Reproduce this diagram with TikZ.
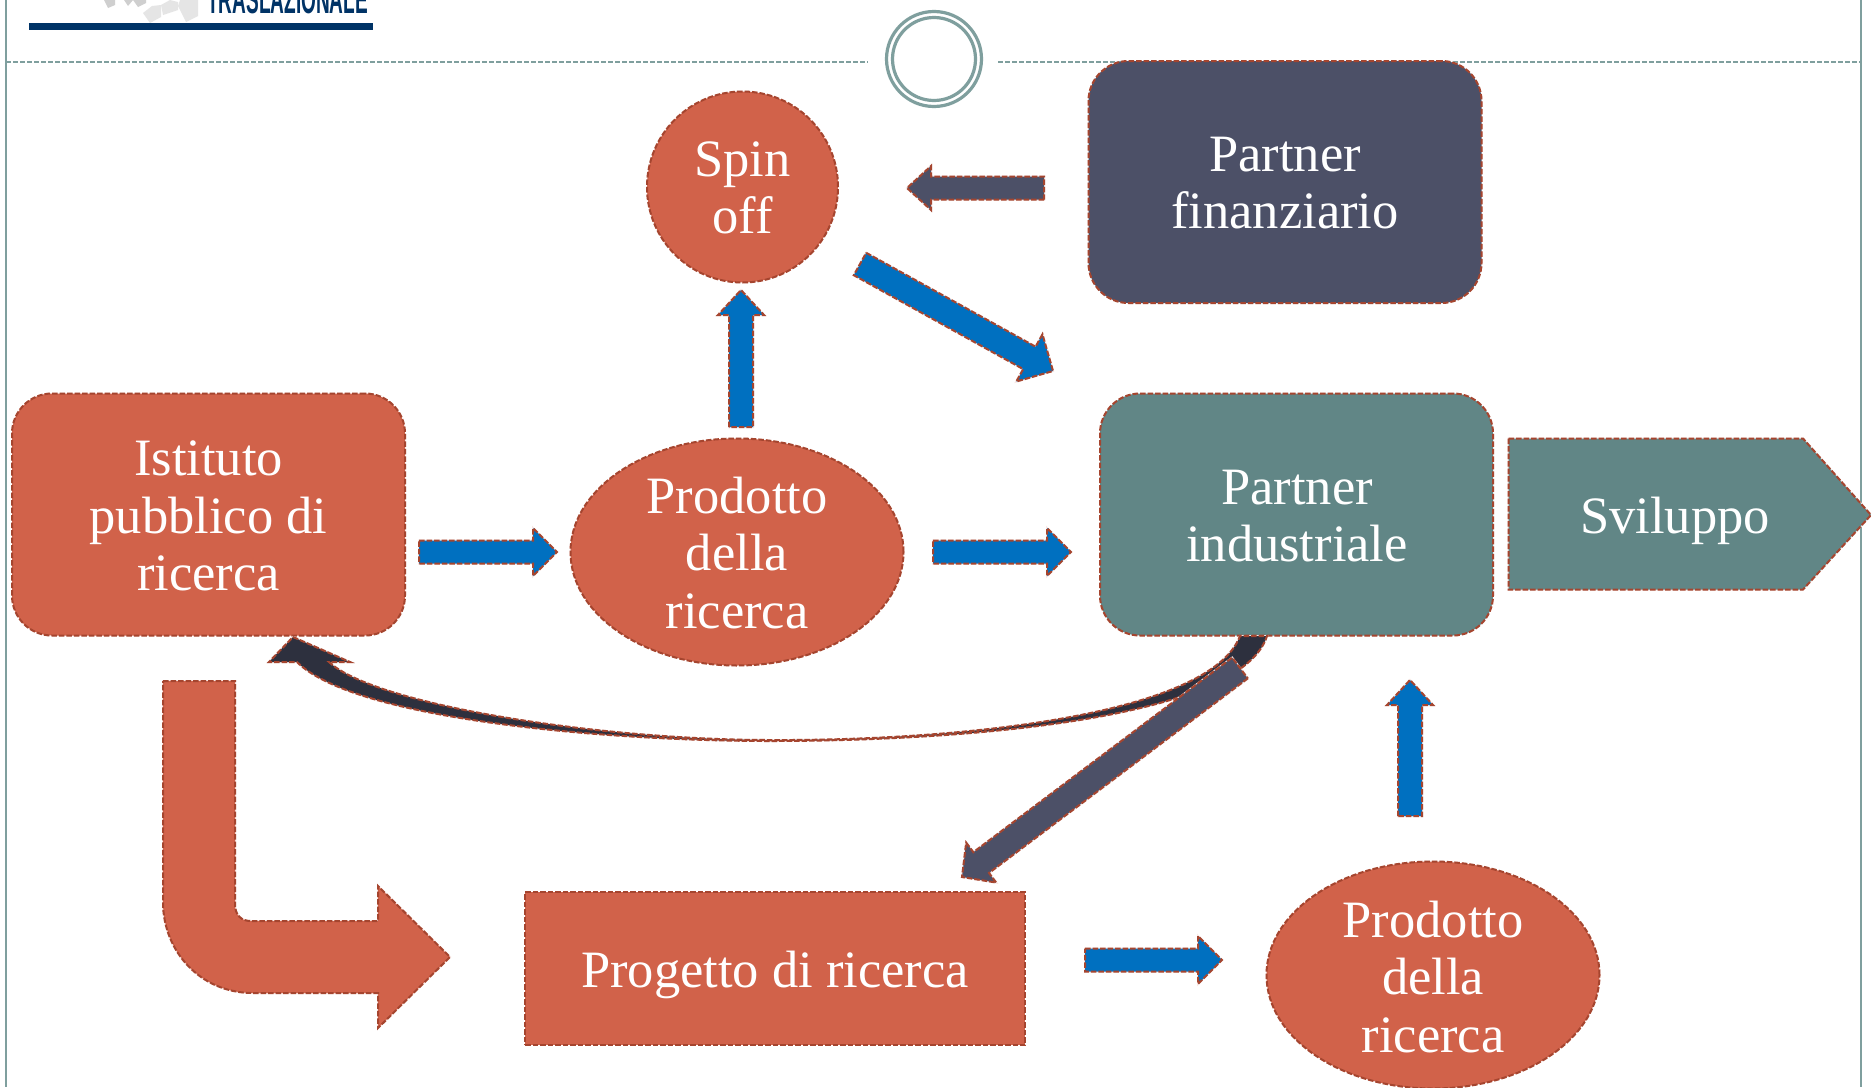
\documentclass[tikz,border=0pt]{standalone}
\usepackage{fontspec}
\setmainfont{Liberation Serif}
\newfontfamily\logofont{Liberation Sans}
\usetikzlibrary{calc,shapes.geometric}
\definecolor{brickfill}{HTML}{D1624A}
\definecolor{tealfill}{HTML}{618686}
\definecolor{slatefill}{HTML}{4C5067}
\definecolor{bluefill}{HTML}{0070C0}
\definecolor{darkband}{HTML}{2D303E}
\definecolor{dashred}{HTML}{A5452F}
\definecolor{framecol}{HTML}{7F9F9E}
\definecolor{navy}{HTML}{003366}
\tikzset{
  x=1pt,y=-1pt,
  dashedge/.style={preaction={draw=white!85!brickfill,line width=2pt},draw=dashred,line width=2pt,dash pattern=on 5.5pt off 2pt},
  label/.style={text=white,align=center,font=\fontsize{52.5}{57.5}\selectfont,inner sep=0pt},
  roundbox/.style={dashedge,rectangle,rounded corners=40pt,minimum width=393pt,minimum height=242pt,inner sep=0pt},
  oval/.style={dashedge,ellipse,fill=brickfill,inner sep=0pt},
  bluearrow/.style={dashedge,fill=bluefill},
  slatearrow/.style={dashedge,fill=slatefill},
  framedash/.style={draw=framecol,line width=1.3pt,dash pattern=on 5pt off 2pt},
  frameline/.style={draw=framecol,line width=2pt},
  ringline/.style={draw=framecol,line width=3.2pt},
  cubelight/.style={fill=gray!20},
  cubedark/.style={fill=gray!38},
}
% tail, tip, shaft half-width, head half-width, head length, style
\newcommand{\blockarrow}[6]{%
  \draw[#6] ($(#1)!#3pt!90:(#2)$)
    -- ($($(#2)!#5pt!(#1)$)!#3pt!90:(#2)$)
    -- ($($(#2)!#5pt!(#1)$)!#4pt!90:(#2)$)
    -- (#2)
    -- ($($(#2)!#5pt!(#1)$)!#4pt!-90:(#2)$)
    -- ($($(#2)!#5pt!(#1)$)!#3pt!-90:(#2)$)
    -- ($(#1)!#3pt!-90:(#2)$) -- cycle;}
\begin{document}
\begin{tikzpicture}
\useasboundingbox (0,0) rectangle (1871,1087);
\clip (0,0) rectangle (1871,1087);
\fill[white] (0,0) rectangle (1871,1087);
% frame
\draw[frameline] (6,0) -- (6,1087);
\draw[frameline] (1861,0) -- (1861,1087);
\draw[framedash] (6,62) -- (868,62);
\draw[framedash] (998,62) -- (1861,62);
\node[ringline,circle,minimum size=95pt,inner sep=0pt] (ringouter) at (934,59) {};
\node[ringline,circle,minimum size=83pt,inner sep=0pt] (ringinner) at (934,59) {};
% logo
\fill[cubelight] (143,13) -- (150,23) -- (161,17) -- (161,5) -- (152,6) -- cycle;
\fill[cubelight] (161,5) -- (163,15) -- (178,10) -- (178,2) -- (170,0) -- cycle;
\fill[cubelight] (178,6) -- (186,22) -- (198,16) -- (198,0) -- (180,0) -- cycle;
\fill[cubedark] (104,0) -- (108,8) -- (115,5) -- (115,0) -- cycle;
\fill[cubedark] (124,0) -- (128,6) -- (133,0) -- cycle;
\fill[cubedark] (133,0) -- (138,7) -- (146,3) -- (146,0) -- cycle;
\fill[navy] (29,23) rectangle (373,30);
\node[anchor=south west,inner sep=0pt,text=navy,font=\logofont\bfseries\fontsize{40}{40}\selectfont] (logotext) at (207,14) {\scalebox{0.476}[1]{TRASLAZIONALE}};
% boxes
\node[roundbox,fill=brickfill] (istituto) at (208.5,514.5) {};
\node[label] at (208.5,516) {Istituto\\pubblico di\\ricerca};
\node[oval,minimum width=333pt,minimum height=227pt] (prodottoa) at (737,552) {};
\node[label] at (737,553) {Prodotto\\della\\ricerca};
\node[oval,minimum width=191pt,minimum height=191pt] (spinoff) at (742.5,187) {};
\node[label] at (742.5,188) {Spin\\off};
\node[roundbox,fill=slatefill] (finanz) at (1285,182) {};
\node[label] at (1285,183) {Partner\\finanziario};
\node[roundbox,fill=tealfill] (industr) at (1296.5,514.5) {};
\node[label] at (1297,516) {Partner\\industriale};
\draw[dashedge,fill=tealfill] (1508.5,438.5) -- (1803,438.5) -- (1871,515) -- (1803,589.5) -- (1508.5,589.5) -- cycle;
\node[label] (sviluppo) at (1675,521) {Sviluppo};
\node[dashedge,rectangle,fill=brickfill,minimum width=500pt,minimum height=153pt,inner sep=0pt] (progetto) at (775,968.5) {};
\node[label] at (775,975) {Progetto di ricerca};
\node[oval,minimum width=333pt,minimum height=227pt] (prodottob) at (1433,975) {};
\node[label] at (1433,977) {Prodotto\\della\\ricerca};
% bent arrow
\draw[dashedge,fill=brickfill] (163,681) -- (235,681) -- (235,904) .. controls (235,915) and (241,921) .. (251,921)
  -- (378,921) -- (378,886) -- (450,957) -- (378,1028) -- (378,993) -- (253,993)
  .. controls (200,993) and (163,951) .. (163,902) -- cycle;
% curved arrow
\coordinate (curvetip) at (293,637);
\draw[dashedge,fill=darkband] (curvetip) -- (350,662) -- (329,662)
  .. controls (375,705) and (600,740) .. (770,740)
  .. controls (960,741) and (1210,715) .. (1240,636)
  -- (1267,636)
  .. controls (1240,720) and (960,741) .. (770,741)
  .. controls (610,741) and (355,720) .. (297,662)
  -- (269,662) -- cycle;
% straight block arrows
\coordinate (aT) at (419,552); \coordinate (aH) at (557,552);
\blockarrow{aT}{aH}{11.5}{24}{24}{bluearrow}
\coordinate (bT) at (933,552); \coordinate (bH) at (1071,552);
\blockarrow{bT}{bH}{11.5}{24}{24}{bluearrow}
\coordinate (cT) at (741,427); \coordinate (cH) at (741,290);
\blockarrow{cT}{cH}{12}{23}{25}{bluearrow}
\coordinate (dT) at (860,264); \coordinate (dH) at (1053,371);
\blockarrow{dT}{dH}{12.8}{27}{27}{bluearrow}
\coordinate (eT) at (1044,188); \coordinate (eH) at (907,188);
\blockarrow{eT}{eH}{11.5}{22}{24}{slatearrow}
\coordinate (fT) at (1410,816); \coordinate (fH) at (1410,680);
\blockarrow{fT}{fH}{12}{23}{25}{bluearrow}
\coordinate (gT) at (1085,960); \coordinate (gH) at (1222,960);
\blockarrow{gT}{gH}{11.5}{24}{24}{bluearrow}
\coordinate (hT) at (1240,668); \coordinate (hH) at (962,877);
\blockarrow{hT}{hH}{13}{25}{24}{slatearrow}
\end{tikzpicture}
\end{document}
